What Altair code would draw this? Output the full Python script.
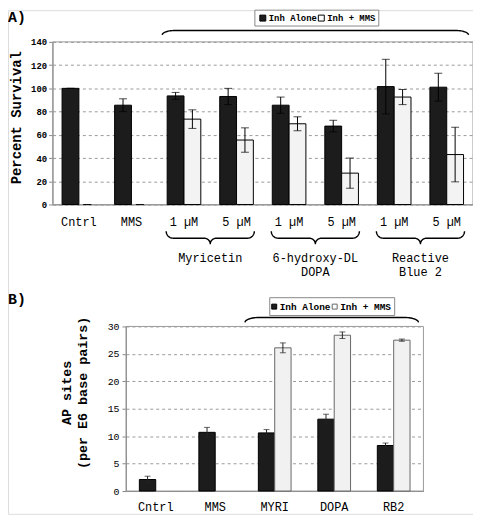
import math
import altair as alt
import pandas as pd

FONT = "Liberation Mono"

# ---------------- data: panel A (percent survival) ----------------
series = ["Inh Alone", "Inh + MMS"]
a_labels = ["Cntrl", "MMS", "1 µM", "5 µM", "1 µM", "5 µM", "1 µM", "5 µM"]
a_alone = [100, 85.5, 93.5, 93, 85.5, 67.5, 101.5, 101]
a_alone_err = [0, 5.5, 3, 7, 7, 5, 23.5, 12]
a_mms = [0, 0, 73.5, 55.5, 69.5, 27, 92.5, 43]
a_mms_err = [0, 0, 8, 10.5, 6, 13, 6.5, 23.5]
a_compounds = ["Myricetin", "6-hydroxy-DL\nDOPA", "Reactive\nBlue 2"]
a_yticks = [0, 20, 40, 60, 80, 100, 120, 140]
a_title = "Percent Survival"

# ---------------- data: panel B (AP sites) ----------------
b_labels = ["Cntrl", "MMS", "MYRI", "DOPA", "RB2"]
b_alone = [2.1, 10.7, 10.6, 13.1, 8.3]
b_alone_err = [0.6, 0.9, 0.6, 0.9, 0.45]
b_mms = [None, None, 26.1, 28.4, 27.5]
b_mms_err = [None, None, 0.9, 0.6, 0.2]
b_yticks = [0, 5, 10, 15, 20, 25, 30]
b_title = ["AP sites", "(per E6 base pairs)"]

a_keys = [f"{lab}|{i}" for i, lab in enumerate(a_labels)]


def long_frame(keys, alone, alone_err, mms, mms_err):
    rows = []
    for k, v, e in zip(keys, alone, alone_err):
        rows.append(dict(key=k, series=series[0], value=v, lo=v - e, hi=v + e))
    for k, v, e in zip(keys, mms, mms_err):
        if v is None:
            continue
        rows.append(dict(key=k, series=series[1], value=v, lo=v - e, hi=v + e))
    return pd.DataFrame(rows)


dfa = long_frame(a_keys, a_alone, a_alone_err, a_mms, a_mms_err)
dfb = long_frame(b_labels, b_alone, b_alone_err, b_mms, b_mms_err)

# ---------------- layout (pixels, chart coordinates) ----------------
W, H = 469, 508
OXA, OYA, WA, HA = 45, 32, 424, 164      # panel A plot rectangle
OXB, OYB, WB, HB = 119, 319, 300, 166    # panel B plot rectangle
DARK = "#1c1c1c"
GRID = "#9a9a9a"


def brace(bid, x0, x1, y0, h, direction, rx, cusp=0.0, crx=6.0, n=14):
    """Decorative curly brace / bracket outline (pixel coordinates)."""
    pts = []
    xm = (x0 + x1) / 2.0

    def arc(cx, cv, ax, av, t0, t1):
        for j in range(n + 1):
            t = t0 + (t1 - t0) * j / n
            pts.append((cx + ax * math.cos(t), cv + av * math.sin(t)))

    arc(x0 + rx, 0, rx, h, math.pi, math.pi / 2)
    if cusp > 0:
        arc(xm - crx, h + cusp, crx, cusp, -math.pi / 2, 0)
        arc(xm + crx, h + cusp, crx, cusp, math.pi, 1.5 * math.pi)
    arc(x1 - rx, 0, rx, h, math.pi / 2, 0)
    return [dict(b=bid, i=j, px=x, py=y0 + direction * v) for j, (x, v) in enumerate(pts)]


def txt(text, x, y, size, weight="normal", align="left", baseline="middle",
        line_height=None, angle=None):
    kw = dict(font=FONT, fontSize=size, fontWeight=weight, align=align,
              baseline=baseline, color="black")
    if line_height:
        kw["lineHeight"] = line_height
        kw["lineBreak"] = "\n"
    if angle is not None:
        kw["angle"] = angle
    return alt.Chart(pd.DataFrame({"t": [text]})).mark_text(**kw).encode(
        x=alt.value(x), y=alt.value(y), text="t:N")


def box(x0, x1, y0, y1, fill, stroke, sw=1):
    return alt.Chart(pd.DataFrame({"k": [0]})).mark_rect(
        fill=fill, stroke=stroke, strokeWidth=sw).encode(
        x=alt.value(x0), x2=alt.value(x1), y=alt.value(y0), y2=alt.value(y1))


def braces_layer(points, width=1.5):
    return alt.Chart(pd.DataFrame(points)).mark_line(color="black", strokeWidth=width).encode(
        x=alt.X("px:Q", scale=None, axis=None),
        y=alt.Y("py:Q", scale=None, axis=None),
        detail="b:N", order="i:Q")


# ================= Panel A =================
PI_A, PO_A = 0.36, 0.18
step_a = WA / (len(a_keys) - PI_A + 2 * PO_A)
bw_a = step_a * (1 - PI_A)


def band_a(i):
    return OXA + step_a * PO_A + i * step_a


xa = alt.X("key:N", sort=a_keys,
           scale=alt.Scale(paddingInner=PI_A, paddingOuter=PO_A, range=[OXA, OXA + WA]),
           axis=alt.Axis(orient="bottom", offset=-(H - OYA - HA), title=None,
                         labelExpr="split(datum.value, '|')[0]", labelAngle=0,
                         ticks=False, labelPadding=12, labelFontSize=12, labelFont=FONT,
                         domainColor="#888", grid=False, labelColor="black"))
xoffA = alt.XOffset("series:N", sort=series, scale=alt.Scale(paddingInner=0, paddingOuter=0))
ysc_a = alt.Scale(domain=[0, 140], nice=False, range=[OYA + HA, OYA])
yaxis_a = alt.Axis(orient="left", offset=-OXA, values=a_yticks, title=None,
                   labelFont=FONT, labelFontSize=9, labelFontWeight="bold",
                   labelColor="black", labelPadding=2,
                   tickSize=4, tickColor="#888", domainColor="#888",
                   grid=True, gridDash=[3, 3], gridColor=GRID)
colorA = alt.Color("series:N", scale=alt.Scale(domain=series, range=[DARK, "#f3f3f3"]), legend=None)

frameA = box(OXA, OXA + WA, OYA, OYA + HA, "transparent", GRID)
barsA = alt.Chart(dfa).transform_filter("datum.value > 0").mark_bar(
    stroke="black", strokeWidth=1).encode(
    x=xa, xOffset=xoffA, color=colorA, y=alt.Y("value:Q", scale=ysc_a, axis=yaxis_a))
rulesA = alt.Chart(dfa).mark_rule(color="black", strokeWidth=1).encode(
    x=xa, xOffset=xoffA, y=alt.Y("lo:Q", scale=ysc_a, axis=yaxis_a), y2="hi:Q")
capHiA = alt.Chart(dfa).mark_tick(color="black", thickness=1, size=8).encode(
    x=xa, xOffset=xoffA, y=alt.Y("hi:Q", scale=ysc_a, axis=yaxis_a))
capLoA = alt.Chart(dfa).mark_tick(color="black", thickness=1, size=8).encode(
    x=xa, xOffset=xoffA, y=alt.Y("lo:Q", scale=ysc_a, axis=yaxis_a))

ptsA = brace("top", band_a(2) - 5, band_a(7) + bw_a + 5, 25, 4.5, -1, 13)
layersA = [frameA, barsA, rulesA, capHiA, capLoA]
for k, name in enumerate(a_compounds):
    x0 = band_a(2 + 2 * k)
    x1 = band_a(3 + 2 * k) + bw_a
    ptsA += brace(f"c{k}", x0 - 1, x1 + 1, 223, 7, 1, 7, cusp=6, crx=6)
    layersA.append(txt(name, (x0 + x1) / 2, 245, 12, align="center", baseline="top", line_height=14))
layersA.append(braces_layer(ptsA, 1.4))

LAX = OXA + 204
layersA += [
    box(LAX, LAX + 125, 0, 16, "white", "#888"),
    box(LAX + 5, LAX + 11, 5, 11, DARK, "black"),
    txt(series[0], LAX + 14, 8, 9, "bold"),
    box(LAX + 64, LAX + 70, 5, 11, "white", "black"),
    txt(series[1], LAX + 73, 8, 9, "bold"),
    txt("A)", 0, 7, 15, "bold"),
    txt(a_title, 9.5, 108.5, 14, "bold", align="center", angle=270),
]
panelA = alt.layer(*layersA)

# ================= Panel B =================
PI_B, PO_B = 0.45, 0.225
xb = alt.X("key:N", sort=b_labels,
           scale=alt.Scale(paddingInner=PI_B, paddingOuter=PO_B, range=[OXB, OXB + WB]),
           axis=alt.Axis(orient="bottom", offset=-(H - OYB - HB), title=None, labelAngle=0,
                         ticks=False, labelPadding=11, labelFontSize=12, labelFont=FONT,
                         domainColor="#888", grid=False, labelColor="black"))
xoffB = alt.XOffset("series:N", sort=series, scale=alt.Scale(paddingInner=0, paddingOuter=0))
ysc_b = alt.Scale(domain=[0, 30], nice=False, range=[OYB + HB, OYB])
yaxis_b = alt.Axis(orient="left", offset=-OXB, values=b_yticks, title=None,
                   labelFont=FONT, labelFontSize=10, labelColor="black", labelPadding=3,
                   tickSize=4, tickColor="#888", domainColor="#888",
                   grid=True, gridDash=[3, 3], gridColor=GRID)
colorB = alt.Color("series:N", scale=alt.Scale(domain=series, range=[DARK, "#f1f1f1"]), legend=None)
strokeB = alt.Stroke("series:N", scale=alt.Scale(domain=series, range=["black", "#666"]), legend=None)

frameB = box(OXB, OXB + WB, OYB, OYB + HB, "transparent", GRID)
barsB = alt.Chart(dfb).mark_bar(strokeWidth=1).encode(
    x=xb, xOffset=xoffB, color=colorB, stroke=strokeB,
    y=alt.Y("value:Q", scale=ysc_b, axis=yaxis_b))
rulesB = alt.Chart(dfb).mark_rule(color="#222", strokeWidth=1).encode(
    x=xb, xOffset=xoffB, y=alt.Y("lo:Q", scale=ysc_b, axis=yaxis_b), y2="hi:Q")
capHiB = alt.Chart(dfb).mark_tick(color="#222", thickness=1, size=6).encode(
    x=xb, xOffset=xoffB, y=alt.Y("hi:Q", scale=ysc_b, axis=yaxis_b))
capLoB = alt.Chart(dfb).mark_tick(color="#222", thickness=1, size=6).encode(
    x=xb, xOffset=xoffB, y=alt.Y("lo:Q", scale=ysc_b, axis=yaxis_b))

ptsB = brace("topB", OXB + 120, OXB + 295, OYB - 4, 5, -1, 14)
LBX, LBY = OXB + 145, OYB - 29
layersB = [frameB, barsB, rulesB, capHiB, capLoB, braces_layer(ptsB, 1.4),
           box(LBX, LBX + 126, LBY, LBY + 18, "white", "#888"),
           box(LBX + 2, LBX + 7, LBY + 6.5, LBY + 11.5, DARK, "black"),
           txt(series[0], LBX + 10, LBY + 9, 9.5, "bold"),
           box(LBX + 63, LBX + 68, LBY + 6.5, LBY + 11.5, "white", "#666"),
           txt(series[1], LBX + 71, LBY + 9, 9.5, "bold"),
           txt("B)", 0, OYB - 28, 15, "bold"),
           txt(b_title[0], 60, 386, 13.5, "bold", align="center", angle=270),
           txt(b_title[1], 75.5, 386, 13.5, "bold", align="center", angle=270)]
panelB = alt.layer(*layersB)

chart = alt.layer(panelA, panelB).resolve_scale(
    x="independent", y="independent", xOffset="independent",
    color="independent", stroke="independent"
).resolve_axis(x="independent", y="independent").properties(
    width=W, height=H, padding=0, background="white",
    autosize=alt.AutoSizeParams(type="none")
).configure_view(strokeWidth=0).configure(font=FONT)

chart.save("out.html", embed_options={"renderer": "svg", "actions": False})
